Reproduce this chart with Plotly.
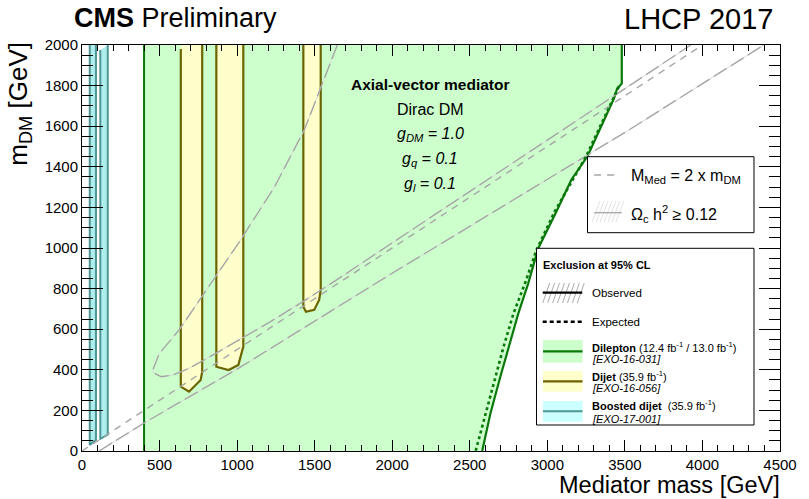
import plotly.graph_objects as go

# ---------------- data (GeV) ----------------
# Dilepton observed exclusion contour (filled region)
dilep_obs_x = [400, 400, 3480, 3480, 3472, 3451, 3430, 3345, 3260, 3154, 3058, 2941, 2877, 2813, 2750, 2697, 2633, 2580]
dilep_obs_y = [0, 2000, 2000, 1811, 1803, 1787, 1737, 1598, 1453, 1335, 1179, 998, 826, 678, 514, 366, 185, 0]
# Dilepton expected contour
dilep_exp_x = [3461, 3430, 3249, 3047, 2930, 2856, 2782, 2718, 2665, 2601, 2538]
dilep_exp_y = [1795, 1745, 1450, 1179, 990, 826, 678, 514, 366, 185, 0]

# Dijet observed exclusion islands
dijet1_x = [637, 637, 690, 765, 775, 775]
dijet1_y = [1980, 317, 292, 350, 391, 2000]
dijet2_x = [866, 866, 945, 1008, 1040, 1040]
dijet2_y = [2000, 415, 399, 424, 514, 2000]
dijet3_x = [1427, 1427, 1444, 1497, 1529, 1539, 1539]
dijet3_y = [2000, 711, 686, 695, 744, 793, 2000]

# Boosted dijet exclusion strips
bdijet1_x = [50, 50, 90, 90]
bdijet1_y = [2000, 30, 55, 2000]
bdijet2_x = [118, 118, 166, 166]
bdijet2_y = [1975, 60, 80, 2000]

# M_Med = 2 m_DM
mmed_x = [0, 4000]
mmed_y = [0, 2000]

# Relic density contours (Omega h^2 = 0.12)
relic_loop_x = [1646, 1433, 1242, 1010, 860, 626, 499, 456, 467, 510, 584, 690, 860, 1008, 1221, 1433, 1646, 1950, 3525, 3925]
relic_loop_y = [2000, 1581, 1302, 1025, 858, 596, 481, 399, 383, 366, 374, 407, 480, 545, 640, 740, 845, 1000, 1800, 2000]
relic_low_x = [110, 414, 1008, 1497, 1964, 3525, 4396]
relic_low_y = [0, 144, 407, 637, 859, 1581, 2000]

# ---------------- styling ----------------
FONT = "Liberation Sans"
GREEN_FILL = "#ccffcc"
GREEN_LINE = "#0a780a"
YEL_FILL = "#ffffcc"
YEL_LINE = "#6b6400"
CYAN_FILL = "#aeeeee"
CYAN_LINE = "#4f9595"
GREY = "#a6a6a6"
GREY_L = "#dadada"

fig = go.Figure()


def fill(x, y, color):
    fig.add_trace(go.Scatter(x=x, y=y, fill="toself", fillcolor=color, mode="lines",
                             line=dict(width=0), hoverinfo="skip", showlegend=False))


def line(x, y, color, width, dash="solid"):
    fig.add_trace(go.Scatter(x=x, y=y, mode="lines",
                             line=dict(color=color, width=width, dash=dash),
                             hoverinfo="skip", showlegend=False))


# dilepton
fill(dilep_obs_x, dilep_obs_y, GREEN_FILL)
line(dilep_obs_x[:2], dilep_obs_y[:2], GREEN_LINE, 2)
line(dilep_obs_x[2:], dilep_obs_y[2:], GREEN_LINE, 2.2)

# boosted dijet
for bx, by in ((bdijet1_x, bdijet1_y), (bdijet2_x, bdijet2_y)):
    fill(bx, by, CYAN_FILL)
    line(bx, by, CYAN_LINE, 2)

# dijet
for dx, dy in ((dijet1_x, dijet1_y), (dijet2_x, dijet2_y), (dijet3_x, dijet3_y)):
    fill([dx[0]] + dx, [2000] + dy, YEL_FILL)
    line(dx, dy, YEL_LINE, 2.2)

# grey reference lines
for rx, ry in ((relic_loop_x, relic_loop_y), (relic_low_x, relic_low_y)):
    line(rx, ry, GREY_L, 1)
    line(rx, ry, GREY, 1.4, "15px,5px")
line(mmed_x, mmed_y, GREY, 1.4, "7px,6px")

# expected
line(dilep_exp_x, dilep_exp_y, GREEN_LINE, 2.6, "3px,3px")

# ---------------- layout helpers ----------------
L, T, W, H = 82, 45, 706, 406


def xp(px):
    return (px - L) / W


def yp(py):
    return (T + H - py) / H


shapes = []
annotations = []


def rect(x0, y0, x1, y1, fillc="white", linec="black", lw=1):
    shapes.append(dict(type="rect", xref="paper", yref="paper", x0=xp(x0), x1=xp(x1),
                       y0=yp(y0), y1=yp(y1), fillcolor=fillc,
                       line=dict(color=linec, width=lw), layer="above"))


def seg(x0, y0, x1, y1, color, lw, dash="solid"):
    shapes.append(dict(type="line", xref="paper", yref="paper", x0=xp(x0), x1=xp(x1),
                       y0=yp(y0), y1=yp(y1), line=dict(color=color, width=lw, dash=dash),
                       layer="above"))


def text(px, py, s, size, xanchor="left", yanchor="middle", angle=0, color="black"):
    annotations.append(dict(x=xp(px), y=yp(py), xref="paper", yref="paper", text=s,
                            showarrow=False, xanchor=xanchor, yanchor=yanchor,
                            textangle=angle, font=dict(family=FONT, size=size, color=color)))


# legend box 1
rect(593.3, 156.7, 761.7, 232.7)
seg(600, 175, 624, 175, GREY, 1.3, "7px,6px")
text(635, 176, "M<sub>Med</sub> = 2 x m<sub>DM</sub>", 16)
for hx in range(598, 624, 4):
    seg(hx, 222, hx + 8, 201, GREY_L, 0.8)
seg(600, 212.7, 628, 212.7, GREY, 1.3)
text(635, 214, "Ω<sub>c</sub> h<sup>2</sup> ≥ 0.12", 16)

# legend box 2
rect(541.7, 248.3, 761.7, 425)
text(546.7, 265, "<b>Exclusion at 95% CL</b>", 11)
for hx in range(548, 584, 5):
    seg(hx, 303, hx + 7, 283, "#888888", 0.7)
seg(548, 292.7, 588, 292.7, "black", 2.2)
text(595.7, 293, "Observed", 11.5)
seg(548, 321.7, 588, 321.7, "black", 2.6, "4px,3px")
text(595.7, 322, "Expected", 11.5)

rect(548.3, 340, 588.3, 362.7, GREEN_FILL, GREEN_FILL, 0)
seg(548.3, 351.3, 588.3, 351.3, GREEN_LINE, 2.2)
text(595.7, 346.5, "<b>Dilepton</b> (12.4 fb<sup>-1</sup> / 13.0 fb<sup>-1</sup>)", 11)
text(595.7, 358.5, "<i>[EXO-16-031]</i>", 11)

rect(548.3, 371, 588.3, 391.7, YEL_FILL, YEL_FILL, 0)
seg(548.3, 381.3, 588.3, 381.3, YEL_LINE, 2.2)
text(595.7, 376, "<b>Dijet</b> (35.9 fb<sup>-1</sup>)", 11)
text(595.7, 387.5, "<i>[EXO-16-056]</i>", 11)

rect(548.3, 401, 588.3, 421.7, "#ccffff", "#ccffff", 0)
seg(548.3, 411.3, 588.3, 411.3, CYAN_LINE, 2)
text(595.7, 405, "<b>Boosted dijet</b>  (35.9 fb<sup>-1</sup>)", 11)
text(595.7, 418.5, "<i>[EXO-17-001]</i>", 11)

# in-plot text
text(434, 84, "<b>Axial-vector mediator</b>", 15.5, xanchor="center")
text(434, 110, "Dirac DM", 16, xanchor="center")
text(434, 134, "<i>g<sub>DM</sub> = 1.0</i>", 16, xanchor="center")
text(434, 159, "<i>g<sub>q</sub> = 0.1</i>", 16, xanchor="center")
text(434, 184, "<i>g<sub>l</sub> = 0.1</i>", 16, xanchor="center")

# header
text(72, 18, "<b>CMS</b> Preliminary", 27)
text(783, 19, "LHCP 2017", 29, xanchor="right")

# axis titles
text(790, 485, "Mediator mass [GeV]", 23.5, xanchor="right")
text(19, 40, "m<sub>DM</sub> [GeV]", 26, xanchor="center", yanchor="top", angle=-90)

axis_common = dict(showline=True, linecolor="black", linewidth=1, mirror="ticks",
                   ticks="inside", tickcolor="black", tickwidth=1, showgrid=False,
                   zeroline=False, layer="above traces",
                   tickfont=dict(family=FONT, size=15, color="black"))

fig.update_layout(
    width=809, height=499,
    margin=dict(l=L, r=809 - L - W, t=T, b=499 - T - H),
    paper_bgcolor="white", plot_bgcolor="white",
    showlegend=False,
    xaxis=dict(range=[0, 4500], tick0=0, dtick=500, ticklen=11,
               minor=dict(dtick=100, ticks="inside", ticklen=6, tickcolor="black", tickwidth=1),
               **axis_common),
    yaxis=dict(range=[0, 2000], tick0=0, dtick=200, ticklen=21,
               minor=dict(dtick=50, ticks="inside", ticklen=11, tickcolor="black", tickwidth=1),
               **axis_common),
    shapes=shapes, annotations=annotations,
)

fig.write_html("out.html")
